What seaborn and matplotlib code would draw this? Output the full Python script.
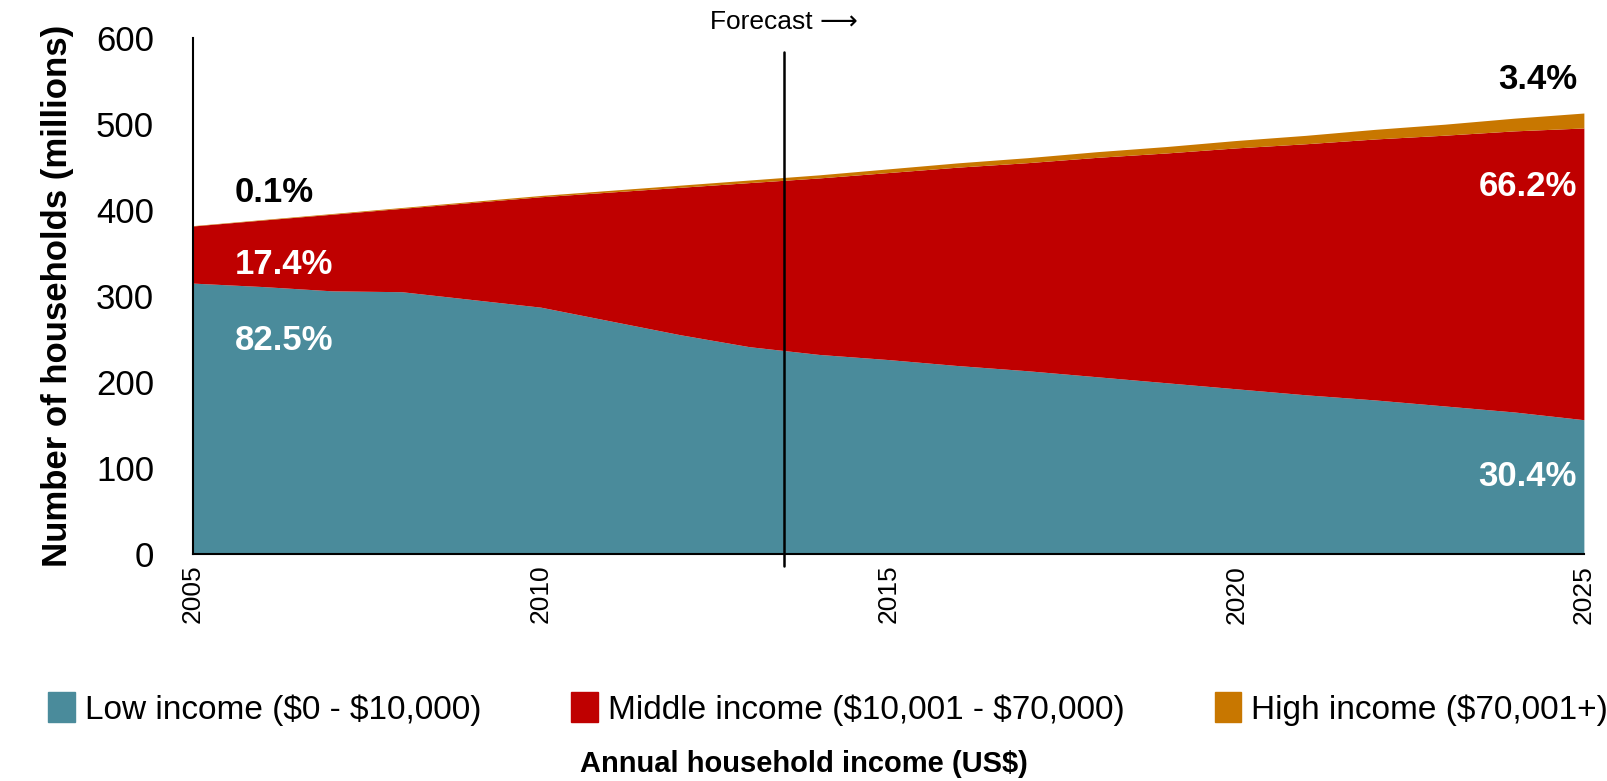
import matplotlib
matplotlib.use("Agg")
import matplotlib.pyplot as plt
from matplotlib import font_manager
from matplotlib.patches import Patch
import seaborn as sns

years = list(range(2005, 2026))
low_income = [315, 311, 306, 305, 296, 287, 271, 255, 241, 232, 226,
              219, 213, 206, 199, 192, 185, 179, 172, 165, 156]
middle_income = [66.5, 77.4, 89.2, 97.0, 112.8, 128.5, 150.0, 171.5, 191.0, 205.4, 217.7,
                 231.0, 242.2, 255.4, 267.5, 280.4, 292.2, 303.8, 315.2, 327.2, 339.6]
high_income = [0.4, 0.6, 0.8, 1.0, 1.2, 1.5, 2.0, 2.5, 3.0, 3.6, 4.3,
               5.0, 5.8, 6.6, 7.5, 8.6, 9.8, 11.2, 12.8, 14.8, 17.4]
series_labels = ["Low income ($0 - $10,000)", "Middle income ($10,001 - $70,000)",
                 "High income ($70,001+)"]
colors = ["#4A8B9B", "#BF0000", "#C87700"]
forecast_year = 2013.5

sns.set_theme(style="white")
names = {f.name for f in font_manager.fontManager.ttflist}
base = "Liberation Sans Narrow" if "Liberation Sans Narrow" in names else "Liberation Sans"
plt.rcParams["font.family"] = [base, "DejaVu Sans"]
plt.rcParams["text.parse_math"] = False
plt.rcParams["text.color"] = "black"
plt.rcParams["axes.labelcolor"] = "black"
plt.rcParams["xtick.color"] = "black"
plt.rcParams["ytick.color"] = "black"

fig = plt.figure(figsize=(16.08, 7.81), dpi=100)
ax = fig.add_axes([0.120, 0.291, 0.865, 0.660])

ax.stackplot(years, low_income, middle_income, high_income, colors=colors,
             labels=series_labels, linewidth=0)

ax.set_xlim(2005, 2025)
ax.set_ylim(0, 600)
ax.set_yticks(range(0, 601, 100))
ax.set_xticks(range(2005, 2026, 5))
ax.tick_params(axis="y", labelsize=25, length=0, pad=28)
ax.tick_params(axis="x", labelsize=19, length=0, pad=8, labelrotation=90)
for s in ["top", "right"]:
    ax.spines[s].set_visible(False)
for s in ["left", "bottom"]:
    ax.spines[s].set_color("black")
    ax.spines[s].set_linewidth(1.5)
ax.set_ylabel("Number of households (millions)", fontsize=25, fontweight="bold", labelpad=16)

# forecast divider
ax.plot([forecast_year, forecast_year], [-14, 584], color="black", lw=1.8, clip_on=False)
ax.text(forecast_year, 619, "Forecast \u27F6", ha="center", va="center", fontsize=19)

# share labels
lab = dict(fontsize=25, fontweight="bold")
ax.text(2005.6, 420, "0.1%", color="black", ha="left", va="center", **lab)
ax.text(2005.6, 337, "17.4%", color="white", ha="left", va="center", **lab)
ax.text(2005.6, 248, "82.5%", color="white", ha="left", va="center", **lab)
ax.text(2024.9, 552, "3.4%", color="black", ha="right", va="center", **lab)
ax.text(2024.9, 427, "66.2%", color="white", ha="right", va="center", **lab)
ax.text(2024.9, 90, "30.4%", color="white", ha="right", va="center", **lab)

handles = [Patch(color=c, label=l) for c, l in zip(colors, series_labels)]
fig.legend(handles=handles, loc="center", bbox_to_anchor=(0.515, 0.092), ncol=3,
           frameon=False, fontsize=24, handlelength=0.8, handleheight=1.0,
           handletextpad=0.3, columnspacing=2.7)
fig.text(0.5, 0.022, "Annual household income (US$)", ha="center", va="center",
         fontsize=21, fontweight="bold")

fig.savefig("out.png", dpi=100)
